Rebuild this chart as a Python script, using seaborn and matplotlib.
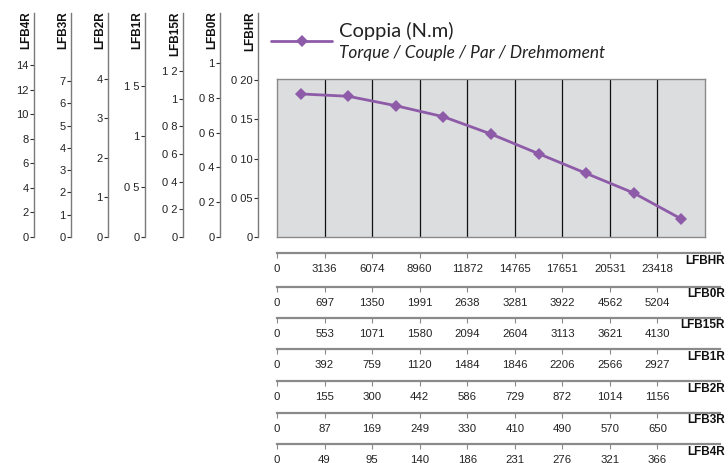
import numpy as np
import pandas as pd
import matplotlib
matplotlib.use("Agg")
import matplotlib.pyplot as plt
import seaborn as sns
from matplotlib.lines import Line2D

# ---------------- data ----------------
torque = [0.182, 0.179, 0.167, 0.153, 0.131, 0.106, 0.081, 0.056, 0.023]

left_names = ["LFB4R", "LFB3R", "LFB2R", "LFB1R", "LFB15R", "LFB0R", "LFBHR"]
left_ticks = {
    "LFB4R": [0, 2, 4, 6, 8, 10, 12, 14],
    "LFB3R": [0, 1, 2, 3, 4, 5, 6, 7],
    "LFB2R": [0, 1, 2, 3, 4],
    "LFB1R": [0, 0.5, 1, 1.5],
    "LFB15R": [0, 0.2, 0.4, 0.6, 0.8, 1, 1.2],
    "LFB0R": [0, 0.2, 0.4, 0.6, 0.8, 1],
    "LFBHR": [0, 0.05, 0.10, 0.15, 0.20],
}
left_labels = {
    "LFB4R": ["0", "2", "4", "6", "8", "10", "12", "14"],
    "LFB3R": ["0", "1", "2", "3", "4", "5", "6", "7"],
    "LFB2R": ["0", "1", "2", "3", "4"],
    "LFB1R": ["0", "0 5", "1", "1 5"],
    "LFB15R": ["0", "0 2", "0 4", "0 6", "0 8", "1", "1 2"],
    "LFB0R": ["0", "0 2", "0 4", "0 6", "0 8", "1"],
    "LFBHR": ["0", "0 05", "0 10", "0 15", "0 20"],
}

bottom_names = ["LFBHR", "LFB0R", "LFB15R", "LFB1R", "LFB2R", "LFB3R", "LFB4R"]
bottom_speeds = {
    "LFBHR": [0, 3136, 6074, 8960, 11872, 14765, 17651, 20531, 23418],
    "LFB0R": [0, 697, 1350, 1991, 2638, 3281, 3922, 4562, 5204],
    "LFB15R": [0, 553, 1071, 1580, 2094, 2604, 3113, 3621, 4130],
    "LFB1R": [0, 392, 759, 1120, 1484, 1846, 2206, 2566, 2927],
    "LFB2R": [0, 155, 300, 442, 586, 729, 872, 1014, 1156],
    "LFB3R": [0, 87, 169, 249, 330, 410, 490, 570, 650],
    "LFB4R": [0, 49, 95, 140, 186, 231, 276, 321, 366],
}

legend_title = "Coppia (N.m)"
legend_sub = "Torque / Couple / Par / Drehmoment"

# ---------------- style ----------------
sns.set_theme(style="white")
plt.rcParams["font.family"] = ["Liberation Sans Narrow", "Liberation Sans", "DejaVu Sans"]

W, H = 728, 463
fig = plt.figure(figsize=(W / 100, H / 100), dpi=100)

def rect(x0, y_top, w, h):
    return [x0 / W, 1 - (y_top + h) / H, w / W, h / H]

purple = "#8E5BA8"
axis_grey = "#7a7a7a"
ncols = 9

# ---------------- main panel ----------------
ax = fig.add_axes(rect(277, 79, 428, 158))
df = pd.DataFrame({"pos": np.arange(len(torque)) + 0.5, "torque": torque})
sns.lineplot(data=df, x="pos", y="torque", ax=ax, color=purple, lw=2,
             marker="D", markersize=6, markeredgewidth=0, label="_nolegend_")
ax.set_xlim(0, ncols)
ax.set_ylim(0, 0.201)
ax.set_facecolor("#DCDDDF")
ax.set_xticks(np.arange(1, ncols))
ax.xaxis.grid(True, color="#111111", lw=0.9)
ax.yaxis.grid(False)
ax.set_xticklabels([])
ax.set_yticks([])
ax.set_xlabel("")
ax.set_ylabel("")
ax.tick_params(length=0)
for s in ax.spines.values():
    s.set_color("#8a8a8a")
    s.set_linewidth(1)
if ax.get_legend():
    ax.get_legend().remove()

# ---------------- left axes ----------------
left_x = [34, 71, 108, 145, 183, 220, 258]
left_top = {"LFB4R": 18.23, "LFB3R": 10.05, "LFB2R": 5.67, "LFB1R": 2.225,
            "LFB15R": 1.62, "LFB0R": 1.287, "LFBHR": 0.2854}
for name, x in zip(left_names, left_x):
    la = fig.add_axes(rect(x, 13, 0.5, 224))
    la.set_ylim(0, left_top[name])
    la.set_xticks([])
    la.set_yticks(left_ticks[name])
    la.set_yticklabels(left_labels[name])
    la.patch.set_alpha(0)
    for k in ["top", "right", "bottom"]:
        la.spines[k].set_visible(False)
    la.spines["left"].set_color(axis_grey)
    la.spines["left"].set_linewidth(1)
    la.tick_params(axis="y", direction="out", length=3, width=0.8, pad=1,
                   colors="#333333", labelsize=8, left=True)
    la.tick_params(axis="y", labelcolor="#222222")
    fig.text((x - 7.5) / W, 1 - 11.5 / H, name, rotation=90, ha="center", va="top",
             fontsize=8.5, fontweight="bold", color="#111111")

# ---------------- bottom axes ----------------
bottom_y = [253.3, 286.5, 317.7, 349.3, 381, 412.7, 444.3]
for name, y in zip(bottom_names, bottom_y):
    ba = fig.add_axes(rect(277, y - 1, 443, 1))
    ba.set_xlim(0, ncols * 443 / 428)
    ba.set_ylim(0, 1)
    ba.set_yticks([])
    ba.set_xticks(np.arange(len(bottom_speeds[name])))
    ba.set_xticklabels([str(v) for v in bottom_speeds[name]])
    ba.patch.set_alpha(0)
    for k in ["top", "right", "left"]:
        ba.spines[k].set_visible(False)
    ba.spines["bottom"].set_color("#8a8a8a")
    ba.spines["bottom"].set_linewidth(1.6)
    ba.tick_params(axis="x", direction="out", length=3.5, width=0.8, pad=4.5,
                   colors="#8a8a8a", labelsize=8.2, labelcolor="#222222", bottom=True)
    fig.text(725 / W, 1 - (y + 1.5) / H, name, ha="right", va="top",
             fontsize=8.5, fontweight="bold", color="#111111")

# ---------------- legend ----------------
handle = Line2D([], [], color=purple, lw=2, marker="D", markersize=6, markeredgewidth=0)
leg = fig.legend([handle], [" "], loc="center left",
                 bbox_to_anchor=(271 / W, 1 - 42 / H), frameon=False,
                 handlelength=4.0, handletextpad=0, borderpad=0, borderaxespad=0)
fig.text(339 / W, 1 - 30.5 / H, legend_title, ha="left", va="center",
         fontsize=14.5, family=["Lato", "DejaVu Sans"], color="#222222")
fig.text(339 / W, 1 - 53 / H, legend_sub, ha="left", va="center",
         fontsize=12.4, style="italic", family=["Lato", "DejaVu Sans"], color="#222222")

fig.savefig("out.png", dpi=100)
